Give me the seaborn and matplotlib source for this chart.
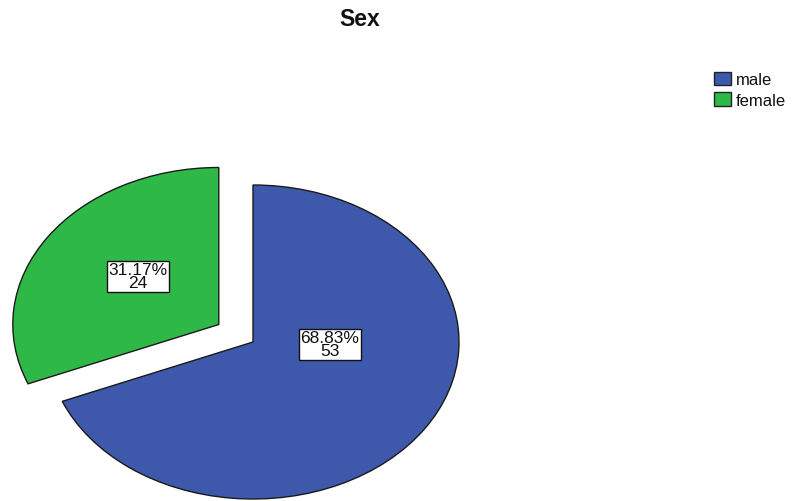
import matplotlib
matplotlib.use("Agg")
import matplotlib.pyplot as plt
from matplotlib.patches import Patch
import seaborn as sns

# Data
categories = ["male", "female"]
counts = [53, 24]
percents = [68.83, 31.17]
colors = ["#3E58AC", "#2EB848"]

# Label box centres (pie data units, after the green slice is pulled out)
label_pos = [(0.374, -0.013), (-0.558, 0.420)]

sns.set_theme(style="white")
plt.rcParams["font.family"] = ["Liberation Sans", "DejaVu Sans"]

W, H = 793, 502
fig = plt.figure(figsize=(W / 100, H / 100), dpi=100)
ax = fig.add_axes([0, 0, 1, 1])

ax.pie(
    counts,
    colors=colors,
    startangle=90,
    counterclock=False,
    explode=[0, 0.2],
    wedgeprops=dict(edgecolor="#1a1a1a", linewidth=1.0),
)

# Elliptical pie: centre at (253, 343) px, radii 206 px (x) and 157 px (y)
cx, cy, rx, ry = 253, 343, 206, 157
ax.set_aspect("auto")
ax.set_xlim((0 - cx) / rx, (W - cx) / rx)
ax.set_ylim((cy - H) / ry, (cy - 0) / ry)
ax.axis("off")

for (x, y), p, n in zip(label_pos, percents, counts):
    ax.text(
        x, y, f"{p:.2f}%\n{n}",
        ha="center", va="center", fontsize=12.5, linespacing=0.8,
        color="#111111",
        bbox=dict(boxstyle="square,pad=0.1", facecolor="white",
                  edgecolor="#111111", linewidth=1.0),
    )

fig.text(360 / W, 1 - 19 / H, "Sex", ha="center", va="center",
         fontsize=16.5, fontweight="bold", color="#111111")

handles = [Patch(facecolor=c, edgecolor="#222222", linewidth=1.0) for c in colors]
fig.legend(
    handles, categories,
    loc="upper left", bbox_to_anchor=(714 / W, 1 - 73 / H),
    frameon=False, fontsize=12, handlelength=1.0, handleheight=0.85,
    handletextpad=0.3, labelspacing=0.3, borderpad=0.0, borderaxespad=0.0,
    labelcolor="#111111",
)

fig.savefig("out.png", dpi=100, facecolor="white")
